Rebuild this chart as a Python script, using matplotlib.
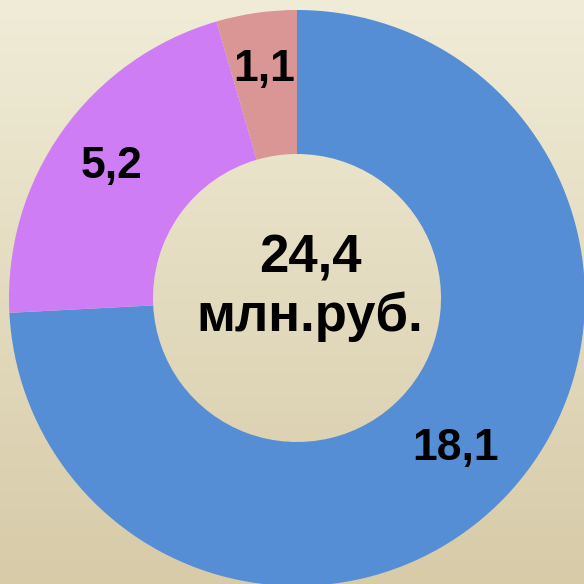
import numpy as np
import matplotlib
matplotlib.use("Agg")
import matplotlib.pyplot as plt

# data
labels = ["18,1", "5,2", "1,1"]
values = [18.1, 5.2, 1.1]
total_label = "24,4\nмлн.руб."
colors = ["#558ED5", "#CF7DF5", "#D99694"]

plt.rcParams['font.family'] = ['Liberation Sans', 'DejaVu Sans']

fig = plt.figure(figsize=(5.84, 5.84), dpi=100)
ax = fig.add_axes([0, 0, 1, 1])

# background gradient (light cream top -> tan bottom)
top = np.array([240, 236, 215]) / 255
bot = np.array([215, 203, 168]) / 255
t = np.linspace(0, 1, 256)[:, None]
grad = top * (1 - t) + bot * t
ax.imshow(grad[:, None, :], extent=[0, 584, 0, 584], aspect="auto", zorder=0)

cx, cy, R = 297, 286, 288
wedges, _ = ax.pie(values, colors=colors, startangle=90, counterclock=False,
                   center=(cx, cy), radius=R,
                   wedgeprops=dict(width=R - 144, edgecolor="none"))
for w in wedges:
    w.set_zorder(2)

# pie() resets limits, so set them afterwards
ax.set_xlim(0, 584)
ax.set_ylim(0, 584)
ax.set_aspect("equal")
ax.axis("off")

# value labels in the ring
label_r = [0.76, 0.79, 0.80]
ang = 90.0
for lab, v, rf in zip(labels, values, label_r):
    span = v / sum(values) * 360
    mid = np.deg2rad(ang - span / 2)
    ang -= span
    r = rf * R
    ax.text(cx + r * np.cos(mid), cy + r * np.sin(mid), lab,
            ha="center", va="center", fontsize=32, fontweight="bold", zorder=3)

ax.text(cx + 13, cy + 10, total_label, ha="center", va="center",
        fontsize=38, fontweight="bold", linespacing=1.2, zorder=3)

fig.savefig("out.png", dpi=100)
